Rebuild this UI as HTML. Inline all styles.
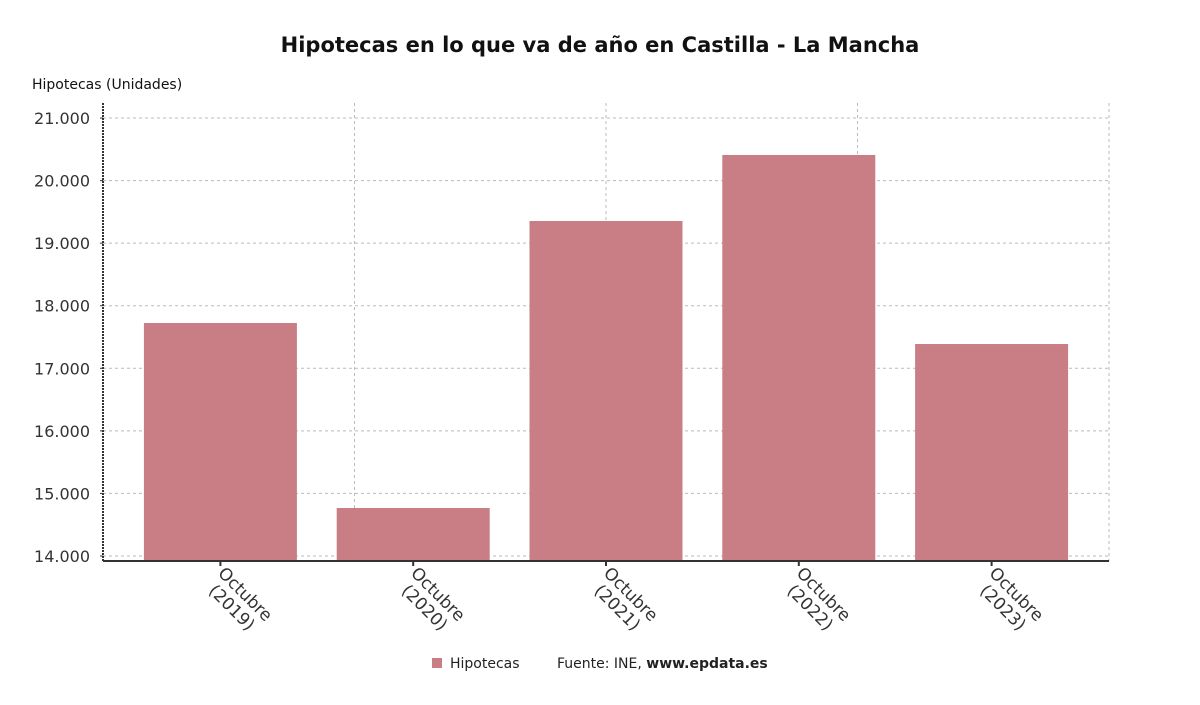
<!DOCTYPE html>
<html><head><meta charset="utf-8"><style>
body{margin:0;background:#fff;}
svg{display:block;font-family:"DejaVu Sans","Liberation Sans",sans-serif;}
</style></head><body>
<svg id="chart" width="1200" height="705" viewBox="0 0 1200 705">
<text x="600" y="52" text-anchor="middle" font-size="21" font-weight="bold" fill="#111">Hipotecas en lo que va de año en Castilla - La Mancha</text>
<text x="32" y="89" font-size="14" fill="#111">Hipotecas (Unidades)</text>
<g id="grid"></g><g id="bars"></g><g id="axes"></g>
<g>
<rect x="432" y="658" width="10" height="10" fill="#c97e85"/>
<text x="450" y="668" font-size="14" fill="#222">Hipotecas</text>
<text x="557" y="668" font-size="14" fill="#222">Fuente: INE, <tspan font-weight="bold">www.epdata.es</tspan></text>
</g>
</svg>
<script>
const categories = ["Octubre (2019)","Octubre (2020)","Octubre (2021)","Octubre (2022)","Octubre (2023)"];
const values = [17724, 14767, 19354, 20409, 17388];
const yTicks = [14000,15000,16000,17000,18000,19000,20000,21000];
const yTickLabels = ["14.000","15.000","16.000","17.000","18.000","19.000","20.000","21.000"];

const NS="http://www.w3.org/2000/svg";
const L=103,R=1109,T=103,B=561;
const BL=124,BR=1088;
const yMin=13920,yMax=21240;
function y(v){return B-(v-yMin)/(yMax-yMin)*(B-T);}
const band=(BR-BL)/categories.length;
function xc(i){return BL+band*(i+0.5);}
function mk(tag,attrs,parent){const e=document.createElementNS(NS,tag);for(const k in attrs)e.setAttribute(k,attrs[k]);parent.appendChild(e);return e;}
const grid=document.getElementById('grid'),bars=document.getElementById('bars'),axes=document.getElementById('axes');
yTicks.forEach((t,i)=>{
  const ln=mk('line',{x1:L,x2:R,y1:y(t),y2:y(t),stroke:'#bbb','stroke-dasharray':'3,3'},grid);
  
  
  const tx=mk('text',{x:90,y:y(t)+6,'text-anchor':'end','font-size':16,fill:'#333'},axes);
  tx.textContent=yTickLabels[i];
  
  
  mk('line',{x1:L-3,x2:L,y1:y(t),y2:y(t),stroke:'#333'},axes);
});
for(let k=1;k<=4;k++){
  const gx=L+(R-L)*k/4;
  const v=mk('line',{x1:gx,x2:gx,y1:T,y2:B,stroke:'#bbb','stroke-dasharray':'3,3'},grid);
  
  
}
const bw=153;
values.forEach((v,i)=>{
  const r=mk('rect',{x:xc(i)-bw/2,y:y(v),width:bw,height:B-y(v),fill:'#c97e85'},bars);
  
  
  mk('line',{x1:xc(i),x2:xc(i),y1:B,y2:B+5,stroke:'#333','stroke-width':2},axes);
  const g=mk('g',{transform:`translate(${xc(i)+18},${B+40}) rotate(45)`},axes);
  const parts=categories[i].split(' ');
  const t=mk('text',{'text-anchor':'middle','font-size':17,fill:'#333'},g);
  
  
  const a=mk('tspan',{x:0,y:-4},t);a.textContent=parts[0];
  const b=mk('tspan',{x:0,y:15},t);b.textContent=parts[1];
});
const yl=mk('line',{x1:L,x2:L,y1:T,y2:B,stroke:'#333','stroke-width':2,'stroke-dasharray':'2,1'},axes);


const xl=mk('line',{x1:L,x2:R,y1:B,y2:B,stroke:'#333','stroke-width':2},axes);


</script>
</body></html>
